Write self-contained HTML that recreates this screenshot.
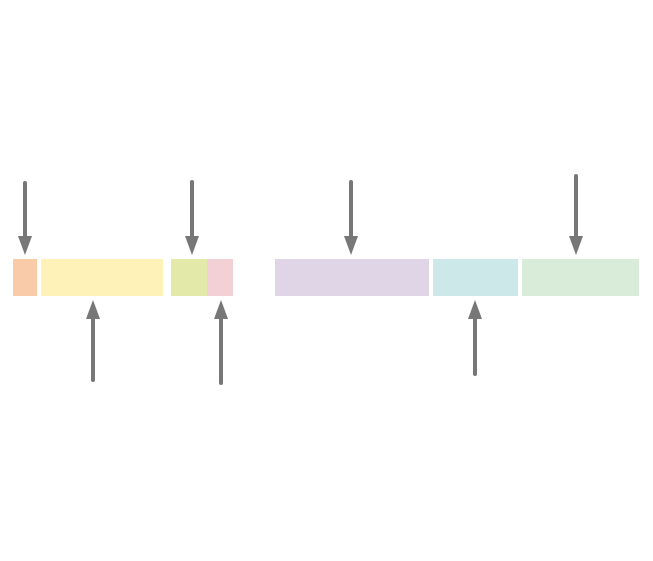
<!DOCTYPE html>
<html><head><style>body{margin:0;background:#fff}</style></head><body>
<svg width="653" height="556" xmlns="http://www.w3.org/2000/svg">
<rect x="13" y="259" width="24" height="37" fill="#f9cba8"/>
<rect x="41" y="259" width="122" height="37" fill="#fef2b9"/>
<rect x="171" y="259" width="36" height="37" fill="#e3e9a8"/>
<rect x="207" y="259" width="26" height="37" fill="#f2d0d6"/>
<rect x="275" y="259" width="154" height="37" fill="#e0d5e7"/>
<rect x="433" y="259" width="85" height="37" fill="#cde8e8"/>
<rect x="522" y="259" width="117" height="37" fill="#d9ebd9"/>
<g stroke="#777" stroke-width="4" stroke-linecap="round">
<line x1="25" y1="183" x2="25" y2="240"/>
<line x1="192" y1="182" x2="192" y2="240"/>
<line x1="351" y1="182" x2="351" y2="240"/>
<line x1="576" y1="176" x2="576" y2="240"/>
<line x1="93" y1="380" x2="93" y2="315"/>
<line x1="221" y1="383" x2="221" y2="315"/>
<line x1="475" y1="374" x2="475" y2="315"/>
</g>
<g fill="#777">
<polygon points="18,236 32,236 25,255"/>
<polygon points="185,236 199,236 192,255"/>
<polygon points="344,236 358,236 351,255"/>
<polygon points="569,236 583,236 576,255"/>
<polygon points="86,319 100,319 93,300"/>
<polygon points="214,319 228,319 221,300"/>
<polygon points="468,319 482,319 475,300"/>
</g>
</svg>
</body></html>
